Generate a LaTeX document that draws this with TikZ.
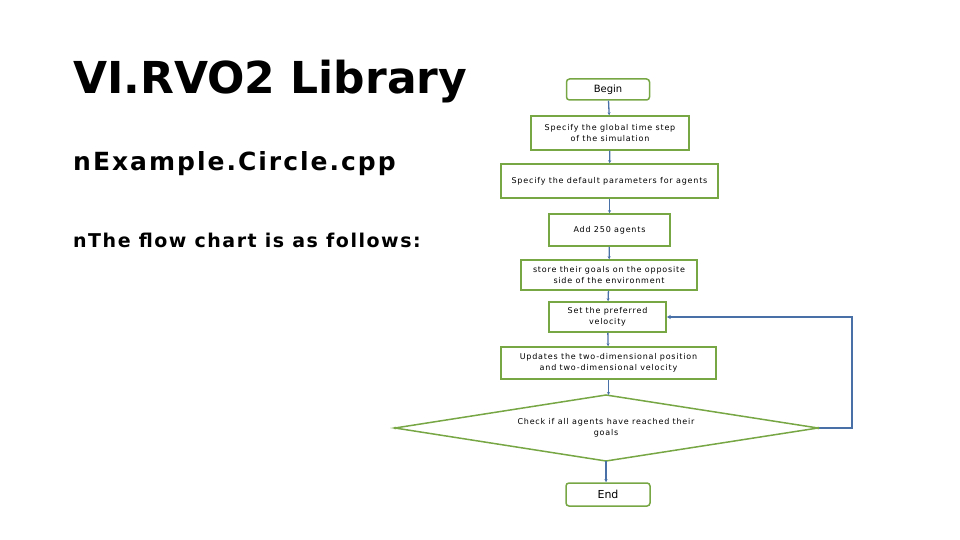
\documentclass[tikz,border=0pt]{standalone}
\usepackage{fontspec}
\setmainfont{Liberation Sans}
\newfontfamily\boxfont[LetterSpace=10]{DejaVu Sans}
\newfontfamily\headfont{DejaVu Sans}
\newfontfamily\bulfont[LetterSpace=8]{DejaVu Sans}
\usetikzlibrary{shapes.geometric,arrows.meta}
\definecolor{gbox}{HTML}{77A645}
\definecolor{lnk}{HTML}{4A70A8}
\begin{document}
\begin{tikzpicture}[x=1pt,y=-1pt,
  box/.style={draw=gbox,line width=1.5pt,fill=white,align=center,font=\boxfont\fontsize{8}{11}\selectfont,inner sep=0pt},
  conn/.style={draw=lnk,line width=1.3pt,-{Stealth[length=3pt,width=3pt]}}]
\useasboundingbox (0,0) rectangle (960,540);
\node[anchor=west,font=\headfont\bfseries\fontsize{44}{50}\selectfont,inner sep=0pt] (title) at (73,82) {VI.RVO2 Library};
\node[anchor=west,font=\bulfont\bfseries\fontsize{25}{28}\selectfont,inner sep=0pt] (b1) at (73,164) {nExample.Circle.cpp};
\node[anchor=west,font=\bulfont\bfseries\fontsize{19}{22}\selectfont,inner sep=0pt] (b2) at (73,240) {nThe flow chart is as follows:};
\node[box,rounded corners=3pt,minimum width=83pt,minimum height=21pt,font=\headfont\fontsize{10}{12}\selectfont] (begin) at (608,89.5) {Begin};
\node[box,minimum width=158pt,minimum height=34pt] (glob) at (610,133) {Specify the global time step\\of the simulation};
\node[box,minimum width=217pt,minimum height=34pt] (def) at (609.5,181) {Specify the default parameters for agents};
\node[box,minimum width=121pt,minimum height=32pt] (add) at (609.5,230) {Add 250 agents};
\node[box,minimum width=176pt,minimum height=30pt] (store) at (609,275) {store their goals on the opposite\\side of the environment};
\node[box,minimum width=117pt,minimum height=30pt] (set) at (607.5,317) {Set the preferred\\velocity};
\node[box,minimum width=215pt,minimum height=32pt] (upd) at (608.5,363) {Updates the two-dimensional position\\and two-dimensional velocity};
\coordinate (dc) at (606,428);
\draw[gbox,line width=1.5pt,fill=white] (395,428) -- (606,395) -- (818,428) -- (606,461) -- cycle;
\node[align=center,font=\boxfont\fontsize{8}{11}\selectfont] (chk) at (dc) {Check if all agents have reached their\\goals};
\coordinate (dl) at (395,428); \coordinate (dr) at (818,428);
\coordinate (dt) at (606,395); \coordinate (db) at (606,461);
\node[box,rounded corners=3pt,minimum width=84pt,minimum height=23pt,font=\headfont\fontsize{11}{12}\selectfont] (end) at (608,494.5) {End};
\draw[conn] (begin) -- (glob);
\draw[conn] (glob) -- (def);
\draw[conn] (def) -- (add);
\draw[conn] (add) -- (store);
\draw[conn] (store) -- (set);
\draw[conn] (set) -- (upd);
\draw[conn] (upd.south) -- (upd.south |- dt);
\draw[conn] (db) -- (db |- end.north);
\coordinate (lp) at (852,428);
\draw[conn,-{Stealth[length=4pt,width=4pt]}] (dr) -- (lp) |- (set.east);
\fill[gbox] (dl) circle (1.5pt) (dr) circle (1.5pt);
\end{tikzpicture}
\end{document}
